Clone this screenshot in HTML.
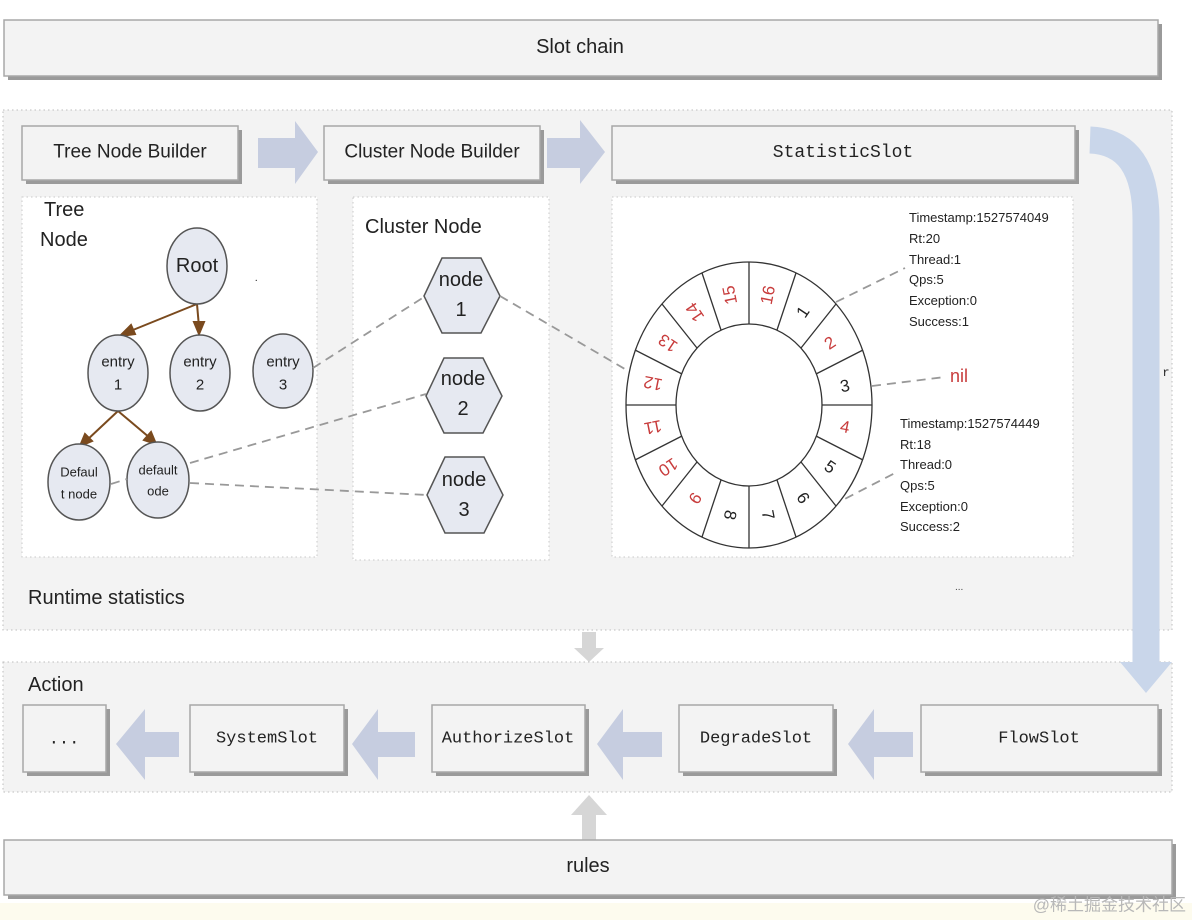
<!DOCTYPE html>
<html><head><meta charset="utf-8"><style>
html,body{margin:0;padding:0;background:#fff;}
svg{display:block;}
.sans{font-family:"Liberation Sans","Noto Sans CJK SC",sans-serif;}
.mono{font-family:"Liberation Mono",monospace;}
</style></head><body>
<svg width="1192" height="920" viewBox="0 0 1192 920" xmlns="http://www.w3.org/2000/svg">
<rect x="0" y="0" width="1192" height="920" fill="#fff"/>
<rect x="0" y="903" width="1192" height="17" fill="#fdfbee"/>
<!-- Slot chain -->
<rect x="8" y="24" width="1154" height="56" fill="#9a9a9a"/>
<rect x="4" y="20" width="1154" height="56" fill="#f3f3f3" stroke="#a8a8a8" stroke-width="1.5"/>
<text x="580" y="47" class="sans" font-size="20" text-anchor="middle" dominant-baseline="central" fill="#222">Slot chain</text>

<!-- runtime region -->
<rect x="3" y="110" width="1169" height="520" fill="#f3f3f3" stroke="#bdbdbd" stroke-dasharray="1.5,3"/>
<!-- builders -->
<g class="sans" font-size="19" fill="#222" text-anchor="middle" dominant-baseline="central">
<rect x="26" y="130" width="216" height="54" fill="#9a9a9a"/>
<rect x="22" y="126" width="216" height="54" fill="#f3f3f3" stroke="#a8a8a8" stroke-width="1.5"/>
<text x="130" y="152">Tree Node Builder</text>
<rect x="328" y="130" width="216" height="54" fill="#9a9a9a"/>
<rect x="324" y="126" width="216" height="54" fill="#f3f3f3" stroke="#a8a8a8" stroke-width="1.5"/>
<text x="432" y="152">Cluster Node Builder</text>
</g>
<rect x="616" y="130" width="463" height="54" fill="#9a9a9a"/>
<rect x="612" y="126" width="463" height="54" fill="#f3f3f3" stroke="#a8a8a8" stroke-width="1.5"/>
<text x="843" y="153" class="mono" font-size="18" text-anchor="middle" dominant-baseline="central" fill="#222">StatisticSlot</text>
<!-- right arrows -->
<polygon points="258,138 295,138 295,121 318,152 295,184 295,168 258,168" fill="#c6cde0"/>
<polygon points="547,138 580,138 580,120 605,152 580,184 580,168 547,168" fill="#c6cde0"/>
<text x="1166" y="373" class="mono" font-size="12" text-anchor="middle" dominant-baseline="central" fill="#222">r</text>

<!-- panels -->
<rect x="22" y="197" width="295" height="360" fill="#fff" stroke="#c8c8c8" stroke-dasharray="1.5,3"/>
<rect x="353" y="197" width="196" height="363" fill="#fff" stroke="#c8c8c8" stroke-dasharray="1.5,3"/>
<rect x="612" y="197" width="461" height="360" fill="#fff" stroke="#c8c8c8" stroke-dasharray="1.5,3"/>

<!-- tree -->
<g class="sans" fill="#222">
<text x="44" y="210" font-size="20" dominant-baseline="central">Tree</text>
<text x="40" y="240" font-size="20" dominant-baseline="central">Node</text>
<text x="365" y="227" font-size="20" dominant-baseline="central">Cluster Node</text>
</g>
<g stroke="#7a4a1e" stroke-width="2" fill="#7a4a1e">
<line x1="197" y1="304" x2="128" y2="332"/>
<polygon points="120,336 131,325 135,334"/>
<line x1="197" y1="304" x2="199" y2="327"/>
<polygon points="199,334 194,322 204,322"/>
<line x1="118" y1="411" x2="86" y2="441"/>
<polygon points="80,446 85,434 92,441"/>
<line x1="118" y1="411" x2="150" y2="438"/>
<polygon points="156,444 144,440 151,432"/>
</g>
<g fill="#e6e9f1" stroke="#555" stroke-width="1.5">
<ellipse cx="197" cy="266" rx="30" ry="38"/>
<ellipse cx="118" cy="373" rx="30" ry="38"/>
<ellipse cx="200" cy="373" rx="30" ry="38"/>
<ellipse cx="283" cy="371" rx="30" ry="37"/>
<ellipse cx="79" cy="482" rx="31" ry="38"/>
<ellipse cx="158" cy="480" rx="31" ry="38"/>
</g>
<g class="sans" fill="#222" text-anchor="middle" dominant-baseline="central">
<text x="197" y="266" font-size="20">Root</text>
<text x="118" y="362" font-size="15">entry</text><text x="118" y="385" font-size="15">1</text>
<text x="200" y="362" font-size="15">entry</text><text x="200" y="385" font-size="15">2</text>
<text x="283" y="362" font-size="15">entry</text><text x="283" y="385" font-size="15">3</text>
<text x="79" y="472" font-size="13">Defaul</text><text x="79" y="494" font-size="13">t node</text>
<text x="158" y="470" font-size="13">default</text><text x="158" y="491" font-size="13">ode</text>
</g>
<text x="255" y="281" font-size="10" fill="#222">.</text>
<!-- hexagons -->
<g fill="#e6e9f1" stroke="#555" stroke-width="1.5">
<polygon points="424,296 442,258 481,258 500,296 481,333 442,333"/>
<polygon points="426,396 444,358 483,358 502,396 483,433 444,433"/>
<polygon points="427,495 445,457 484,457 503,495 484,533 445,533"/>
</g>
<g class="sans" fill="#222" text-anchor="middle" dominant-baseline="central" font-size="20">
<text x="461" y="280">node</text><text x="461" y="310">1</text>
<text x="463" y="379">node</text><text x="463" y="409">2</text>
<text x="464" y="480">node</text><text x="464" y="510">3</text>
</g>
<!-- dashed lines -->
<g stroke="#999" stroke-width="1.8" stroke-dasharray="9,6" fill="none">
<line x1="313" y1="368" x2="424" y2="297"/>
<line x1="500" y1="296" x2="630" y2="372"/>
<line x1="190" y1="463" x2="426" y2="394"/>
<line x1="190" y1="483" x2="427" y2="495"/>
<line x1="111" y1="484" x2="127" y2="479"/>
<line x1="836" y1="302" x2="905" y2="268"/>
<line x1="872" y1="386" x2="945" y2="377"/>
<line x1="752" y1="547" x2="895" y2="473"/>
</g>
<!-- ring -->
<g stroke="#333" stroke-width="1.3" fill="none">
<ellipse cx="749" cy="405" rx="123" ry="143" fill="#fff"/>
<ellipse cx="749" cy="405" rx="73" ry="81"/>
<line x1="749" y1="324" x2="749" y2="262"/>
<line x1="777" y1="330" x2="796" y2="273"/>
<line x1="801" y1="348" x2="836" y2="304"/>
<line x1="816" y1="374" x2="863" y2="350"/>
<line x1="822" y1="405" x2="872" y2="405"/>
<line x1="816" y1="436" x2="863" y2="460"/>
<line x1="801" y1="462" x2="836" y2="506"/>
<line x1="777" y1="480" x2="796" y2="537"/>
<line x1="749" y1="486" x2="749" y2="548"/>
<line x1="721" y1="480" x2="702" y2="537"/>
<line x1="697" y1="462" x2="662" y2="506"/>
<line x1="682" y1="436" x2="635" y2="460"/>
<line x1="676" y1="405" x2="626" y2="405"/>
<line x1="682" y1="374" x2="635" y2="350"/>
<line x1="697" y1="348" x2="662" y2="304"/>
<line x1="721" y1="330" x2="702" y2="273"/>
</g>
<g class="sans" font-size="17" text-anchor="middle" dominant-baseline="central">
<text x="768" y="295" fill="#c83c3c" transform="rotate(-78.75 768 295)">16</text>
<text x="803" y="312" fill="#222" transform="rotate(-56.25 803 312)">1</text>
<text x="830" y="343" fill="#c83c3c" transform="rotate(-33.75 830 343)">2</text>
<text x="845" y="386" fill="#222" transform="rotate(-11.25 845 386)">3</text>
<text x="845" y="427" fill="#c83c3c" transform="rotate(11.25 845 427)">4</text>
<text x="830" y="467" fill="#222" transform="rotate(33.75 830 467)">5</text>
<text x="803" y="498" fill="#222" transform="rotate(56.25 803 498)">6</text>
<text x="768" y="515" fill="#222" transform="rotate(78.75 768 515)">7</text>
<text x="730" y="515" fill="#222" transform="rotate(101.25 730 515)">8</text>
<text x="695" y="498" fill="#c83c3c" transform="rotate(123.75 695 498)">9</text>
<text x="668" y="467" fill="#c83c3c" transform="rotate(146.25 668 467)">10</text>
<text x="653" y="427" fill="#c83c3c" transform="rotate(168.75 653 427)">11</text>
<text x="653" y="383" fill="#c83c3c" transform="rotate(191.25 653 383)">12</text>
<text x="668" y="343" fill="#c83c3c" transform="rotate(213.75 668 343)">13</text>
<text x="695" y="312" fill="#c83c3c" transform="rotate(236.25 695 312)">14</text>
<text x="730" y="295" fill="#c83c3c" transform="rotate(258.75 730 295)">15</text>
</g>
<text x="950" y="376" class="sans" font-size="18" fill="#c83c3c" dominant-baseline="central">nil</text>
<g class="sans" font-size="13" fill="#222">
<text x="909" y="222">Timestamp:1527574049</text>
<text x="909" y="243">Rt:20</text>
<text x="909" y="264">Thread:1</text>
<text x="909" y="284">Qps:5</text>
<text x="909" y="305">Exception:0</text>
<text x="909" y="326">Success:1</text>
<text x="900" y="428">Timestamp:1527574449</text>
<text x="900" y="449">Rt:18</text>
<text x="900" y="469">Thread:0</text>
<text x="900" y="490">Qps:5</text>
<text x="900" y="511">Exception:0</text>
<text x="900" y="531">Success:2</text>
</g>
<text x="28" y="598" class="sans" font-size="20" fill="#222" dominant-baseline="central">Runtime statistics</text>
<text x="955" y="590" class="sans" font-size="10" fill="#444">...</text>

<!-- down arrow gray -->
<polygon points="582,632 596,632 596,648 604,648 589,662 574,648 582,648" fill="#d6d6d6"/>

<!-- action region -->
<rect x="3" y="662" width="1169" height="130" fill="#f3f3f3" stroke="#bdbdbd" stroke-dasharray="1.5,3"/>
<text x="28" y="685" class="sans" font-size="20" fill="#222" dominant-baseline="central">Action</text>

<!-- curved arrow (drawn on top) -->
<path d="M1090,140 Q1146,142 1146,220 L1146,662" fill="none" stroke="#c9d6ea" stroke-width="27"/>
<polygon points="1120,662 1172,662 1146,693" fill="#c9d6ea"/>

<g class="mono" font-size="17" fill="#222" text-anchor="middle" dominant-baseline="central">
<rect x="27" y="709" width="83" height="67" fill="#9a9a9a"/>
<rect x="23" y="705" width="83" height="67" fill="#f3f3f3" stroke="#a8a8a8" stroke-width="1.5"/>
<text x="64" y="740">...</text>
<rect x="194" y="709" width="154" height="67" fill="#9a9a9a"/>
<rect x="190" y="705" width="154" height="67" fill="#f3f3f3" stroke="#a8a8a8" stroke-width="1.5"/>
<text x="267" y="739">SystemSlot</text>
<rect x="436" y="709" width="153" height="67" fill="#9a9a9a"/>
<rect x="432" y="705" width="153" height="67" fill="#f3f3f3" stroke="#a8a8a8" stroke-width="1.5"/>
<text x="508" y="739">AuthorizeSlot</text>
<rect x="683" y="709" width="154" height="67" fill="#9a9a9a"/>
<rect x="679" y="705" width="154" height="67" fill="#f3f3f3" stroke="#a8a8a8" stroke-width="1.5"/>
<text x="756" y="739">DegradeSlot</text>
<rect x="925" y="709" width="237" height="67" fill="#9a9a9a"/>
<rect x="921" y="705" width="237" height="67" fill="#f3f3f3" stroke="#a8a8a8" stroke-width="1.5"/>
<text x="1039" y="739">FlowSlot</text>
</g>
<g fill="#c6cde0">
<polygon points="116,744 145,709 145,732 179,732 179,757 145,757 145,780"/>
<polygon points="352,744 378,709 378,732 415,732 415,757 378,757 378,780"/>
<polygon points="597,744 623,709 623,732 662,732 662,757 623,757 623,780"/>
<polygon points="848,744 874,709 874,732 913,732 913,757 874,757 874,780"/>
</g>
<!-- up arrow gray -->
<polygon points="589,795 607,815 596,815 596,840 582,840 582,815 571,815" fill="#d6d6d6"/>

<!-- rules -->
<rect x="8" y="844" width="1168" height="55" fill="#9a9a9a"/>
<rect x="4" y="840" width="1168" height="55" fill="#f3f3f3" stroke="#a8a8a8" stroke-width="1.5"/>
<text x="588" y="866" class="sans" font-size="20" text-anchor="middle" dominant-baseline="central" fill="#222">rules</text>
<text x="1186" y="905" class="sans" font-size="17" text-anchor="end" dominant-baseline="central" fill="#b8b8b8">@稀土掘金技术社区</text>
</svg>
</body></html>
